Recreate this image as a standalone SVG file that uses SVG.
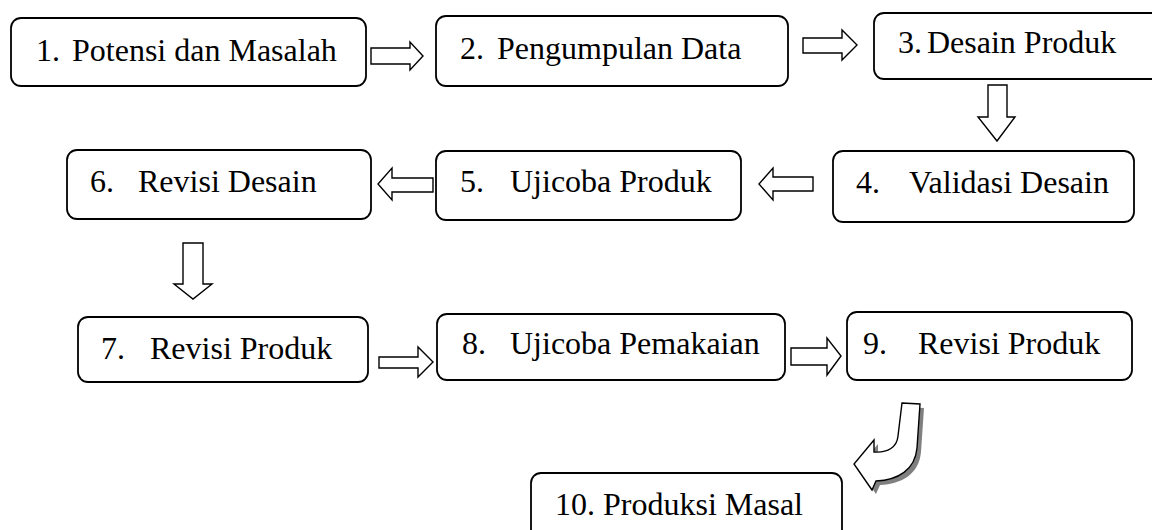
<svg xmlns="http://www.w3.org/2000/svg" width="1152" height="530" viewBox="0 0 1152 530">
<style>
.box{fill:#fff;stroke:#000;stroke-width:1.8}
.arr{fill:#fff;stroke:#000;stroke-width:1.4;stroke-linejoin:miter}
</style>
<rect width="1152" height="530" fill="#fff"/>
<g id="connectors">
<path class="arr" d="M371,48 L410,48 L410,42 L423,56 L410,70 L410,64 L371,64 Z"/>
<path class="arr" d="M803,38 L842,38 L842,30 L857,45 L842,60 L842,53 L803,53 Z"/>
<path class="arr" d="M988,85 L1007,85 L1007,117 L1015,117 L997,141 L978,117 L988,117 Z"/>
<path class="arr" d="M813,177 L773,177 L773,168 L759,184 L773,200 L773,191 L813,191 Z"/>
<path class="arr" d="M433,178 L392,178 L392,168 L378,184 L392,200 L392,192 L433,192 Z"/>
<path class="arr" d="M183,243 L203,243 L203,284 L212,284 L193,299 L174,284 L183,284 Z"/>
<path class="arr" d="M379,357 L418,357 L418,347 L433,362 L418,377 L418,368 L379,368 Z"/>
<path class="arr" d="M791,348 L827,348 L827,338 L841,356 L827,375 L827,365 L791,365 Z"/>
<path d="M906,407 L924,408 L921,452 C919,474 902,484 880,485 L876,494 L858,468 L878,444 L878,456 C892,457 901,451 902,440 Z" fill="#808080"/>
<path class="arr" d="M902,403 L920,404 L917,448 C915,470 898,480 876,481 L872,490 L854,464 L874,440 L874,452 C888,453 897,447 898,436 Z"/>
</g>
<g font-family="Liberation Serif, Times New Roman, serif" font-size="32" fill="#000">
<g id="n1"><rect class="box" x="11" y="18" width="355" height="68" rx="10"/><text y="61"><tspan x="36">1.</tspan><tspan x="72">Potensi dan Masalah</tspan></text></g>
<g id="n2"><rect class="box" x="436" y="16" width="352" height="70" rx="10"/><text y="59"><tspan x="460">2.</tspan><tspan x="497">Pengumpulan Data</tspan></text></g>
<g id="n3"><rect class="box" x="874" y="13" width="295" height="66" rx="10"/><text y="53"><tspan x="898">3.</tspan><tspan x="927">Desain Produk</tspan></text></g>
<g id="n4"><rect class="box" x="833" y="151" width="301" height="71" rx="10"/><text y="193"><tspan x="856">4.</tspan><tspan x="909">Validasi Desain</tspan></text></g>
<g id="n5"><rect class="box" x="436" y="151" width="305" height="69" rx="10"/><text y="192"><tspan x="460">5.</tspan><tspan x="510">Ujicoba Produk</tspan></text></g>
<g id="n6"><rect class="box" x="67" y="150" width="304" height="69" rx="10"/><text y="192"><tspan x="90">6.</tspan><tspan x="138">Revisi Desain</tspan></text></g>
<g id="n7"><rect class="box" x="78" y="317" width="290" height="65" rx="10"/><text y="359"><tspan x="101">7.</tspan><tspan x="150">Revisi Produk</tspan></text></g>
<g id="n8"><rect class="box" x="437" y="314" width="348" height="66" rx="10"/><text y="354"><tspan x="462">8.</tspan><tspan x="510">Ujicoba Pemakaian</tspan></text></g>
<g id="n9"><rect class="box" x="847" y="312" width="285" height="68" rx="10"/><text y="354"><tspan x="863">9.</tspan><tspan x="918">Revisi Produk</tspan></text></g>
<g id="n10"><rect class="box" x="531" y="473" width="311" height="72" rx="10"/><text x="555" y="515">10. Produksi Masal</text></g>
</g>
</svg>
